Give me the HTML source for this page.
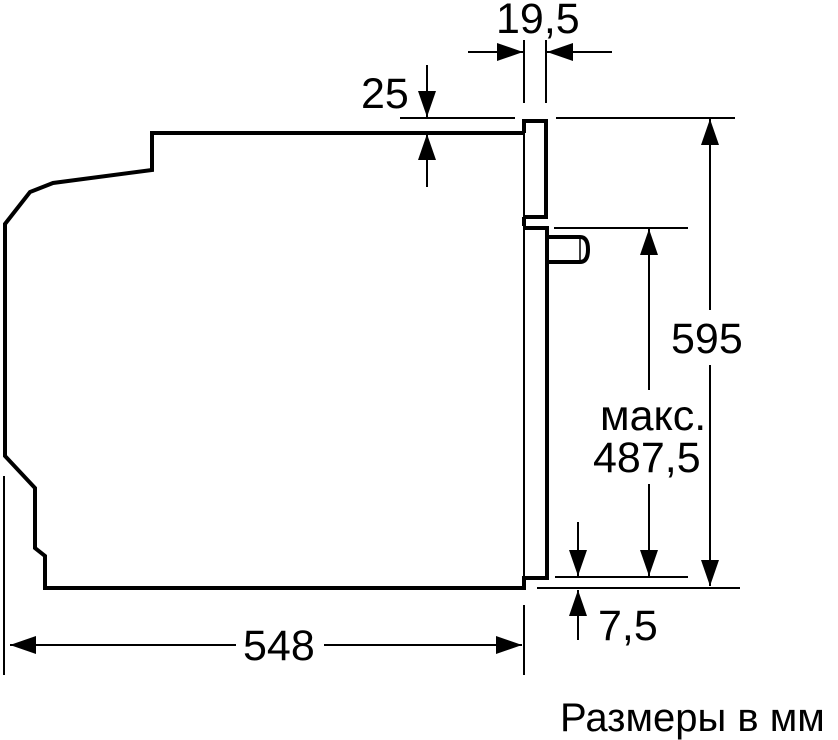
<!DOCTYPE html>
<html><head><meta charset="utf-8"><style>body{margin:0;background:#fff}svg{display:block}</style></head><body>
<svg width="838" height="740" viewBox="0 0 838 740" xmlns="http://www.w3.org/2000/svg">
<defs>
<marker id="a" viewBox="0 0 26 18" refX="26" refY="9" markerWidth="26" markerHeight="18" markerUnits="userSpaceOnUse" orient="auto"><path d="M0,0 L26,9 L0,18 Z" fill="#000"/></marker>
</defs>
<g fill="none" stroke="#000" stroke-linejoin="miter">
<path d="M524,133 H152 V170 L53,183 L30,192 L5,224 V456 L35,488 V548 L45,556 V588 H524 V578 H547 V228 H524" stroke-width="4"/>
<path d="M524,217 V226 M524,133 V121 H546 V217 H524" stroke-width="4"/>
<line x1="524" y1="121" x2="524" y2="588" stroke-width="2"/>
<path d="M547,237 H580 Q588,237 588,249.5 Q588,262 580,262 H547" stroke-width="4"/>
<line x1="580" y1="238" x2="580" y2="261" stroke-width="1.5"/>
<g stroke-width="2">
<line x1="4" y1="476" x2="4" y2="675"/>
<line x1="524" y1="605" x2="524" y2="675"/>
<line x1="236" y1="645" x2="10" y2="645" marker-end="url(#a)"/>
<line x1="324" y1="645" x2="522" y2="645" marker-end="url(#a)"/>
<line x1="524" y1="40" x2="524" y2="103"/>
<line x1="546" y1="40" x2="546" y2="103"/>
<line x1="468" y1="52" x2="523" y2="52" marker-end="url(#a)"/>
<line x1="612" y1="52" x2="547" y2="52" marker-end="url(#a)"/>
<line x1="400" y1="118" x2="515" y2="118"/>
<line x1="427" y1="65" x2="427" y2="117" marker-end="url(#a)"/>
<line x1="427" y1="187" x2="427" y2="134" marker-end="url(#a)"/>
<line x1="556" y1="118" x2="735" y2="118"/>
<line x1="537" y1="588" x2="740" y2="588"/>
<line x1="710" y1="310" x2="710" y2="119" marker-end="url(#a)"/>
<line x1="710" y1="365" x2="710" y2="586" marker-end="url(#a)"/>
<line x1="554" y1="228" x2="688" y2="228"/>
<line x1="555" y1="577" x2="688" y2="577"/>
<line x1="649" y1="390" x2="649" y2="229" marker-end="url(#a)"/>
<line x1="649" y1="484" x2="649" y2="576" marker-end="url(#a)"/>
<line x1="578" y1="522" x2="578" y2="576" marker-end="url(#a)"/>
<line x1="578" y1="640" x2="578" y2="590" marker-end="url(#a)"/>
</g>
</g>
<g font-family="Liberation Sans, sans-serif" font-size="43" fill="#000">
<text x="496" y="33">19,5</text>
<text x="361" y="108">25</text>
<text x="671" y="353">595</text>
<text x="600" y="430">макс.</text>
<text x="593" y="472">487,5</text>
<text x="598" y="640">7,5</text>
<text x="243" y="660">548</text>
<text x="560" y="731" font-size="40">Размеры в мм</text>
</g>
</svg>
</body></html>
